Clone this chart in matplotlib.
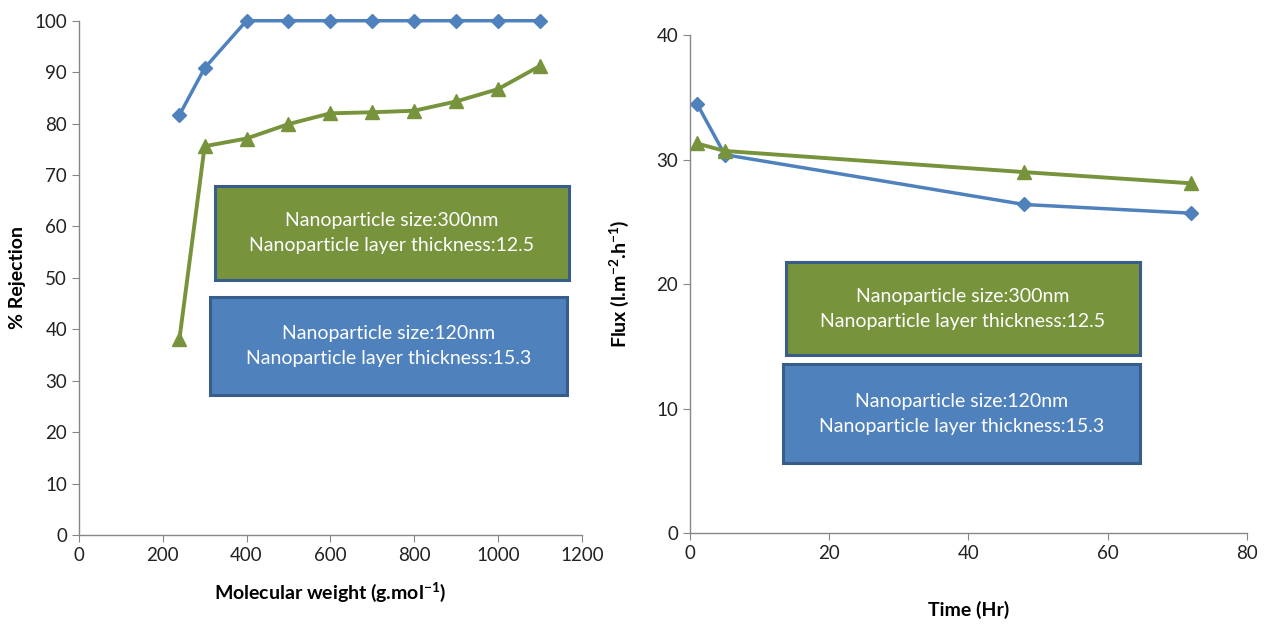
import matplotlib
matplotlib.use("Agg")
import matplotlib.pyplot as plt
from matplotlib.patches import Rectangle

plt.rcParams["font.family"] = ["Lato", "DejaVu Sans"]
plt.rcParams["mathtext.default"] = "regular"

# left panel: rejection vs molecular weight
mw = [240, 300, 400, 500, 600, 700, 800, 900, 1000, 1100]
rej_120 = [81.7, 90.8, 100, 100, 100, 100, 100, 100, 100, 100]
rej_300 = [38.2, 75.6, 77.1, 79.9, 82.0, 82.2, 82.5, 84.3, 86.7, 91.2]

# right panel: flux vs time
time_hr = [1, 5, 48, 72]
flux_120 = [34.5, 30.4, 26.4, 25.7]
flux_300 = [31.3, 30.7, 29.0, 28.1]

box_300 = "Nanoparticle size:300nm\nNanoparticle layer thickness:12.5"
box_120 = "Nanoparticle size:120nm\nNanoparticle layer thickness:15.3"

BLUE = "#4F81BD"
GREEN = "#77933C"
EDGE = "#385D8A"
AXIS = "#868686"


def style_axes(ax):
    for side in ["top", "right"]:
        ax.spines[side].set_visible(False)
    for side in ["left", "bottom"]:
        ax.spines[side].set_color(AXIS)
        ax.spines[side].set_linewidth(1.0)
    ax.tick_params(direction="out", color=AXIS, length=5, labelsize=13.5,
                   labelcolor="#222222")


def add_box(ax, x0, y0, x1, y1, color, text):
    ax.add_patch(Rectangle((x0, y0), x1 - x0, y1 - y0, transform=ax.transAxes,
                           facecolor=color, edgecolor=EDGE, linewidth=2.2,
                           zorder=5))
    ax.text((x0 + x1) / 2, (y0 + y1) / 2, text, transform=ax.transAxes,
            ha="center", va="center", color="white", fontsize=14,
            linespacing=1.55, zorder=6)


fig = plt.figure(figsize=(12.73, 6.28), dpi=100)

ax1 = fig.add_axes([0.062, 0.148, 0.395, 0.819])
ax1.plot(mw, rej_120, color=BLUE, lw=2.5, marker="D", ms=7, clip_on=False)
ax1.plot(mw, rej_300, color=GREEN, lw=2.8, marker="^", ms=10, clip_on=False)
ax1.set_xlim(0, 1200)
ax1.set_ylim(0, 100)
ax1.set_xticks(range(0, 1201, 200))
ax1.set_yticks(range(0, 101, 10))
style_axes(ax1)
ax1.set_xlabel("Molecular weight (g.mol$^{-1}$)", fontsize=14,
               fontweight="bold", labelpad=12)
ax1.set_ylabel("% Rejection", fontsize=14, fontweight="bold", labelpad=6)
add_box(ax1, 0.270, 0.496, 0.974, 0.679, GREEN, box_300)
add_box(ax1, 0.260, 0.272, 0.970, 0.463, BLUE, box_120)

ax2 = fig.add_axes([0.542, 0.151, 0.4375, 0.793])
ax2.plot(time_hr, flux_120, color=BLUE, lw=2.5, marker="D", ms=7, clip_on=False)
ax2.plot(time_hr, flux_300, color=GREEN, lw=2.8, marker="^", ms=10, clip_on=False)
ax2.set_xlim(0, 80)
ax2.set_ylim(0, 40)
ax2.set_xticks(range(0, 81, 20))
ax2.set_yticks(range(0, 41, 10))
style_axes(ax2)
ax2.set_xlabel("Time (Hr)", fontsize=14, fontweight="bold", labelpad=28)
ax2.set_ylabel("Flux (l.m$^{-2}$.h$^{-1}$)", fontsize=14, fontweight="bold",
               labelpad=18)
add_box(ax2, 0.172, 0.357, 0.808, 0.544, GREEN, box_300)
add_box(ax2, 0.167, 0.141, 0.808, 0.339, BLUE, box_120)

fig.savefig("out.png", dpi=100, facecolor="white")
